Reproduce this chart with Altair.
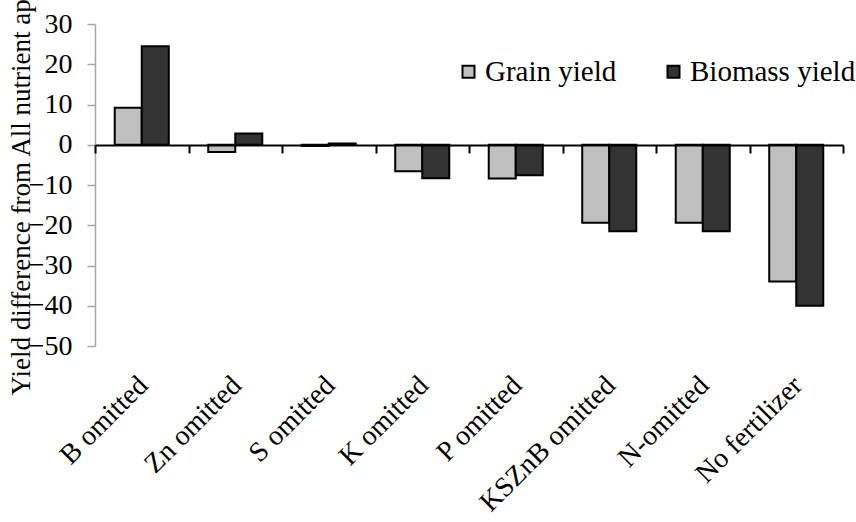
import altair as alt
import pandas as pd

categories = ["B omitted", "Zn omitted", "S omitted", "K omitted", "P omitted",
              "KSZnB omitted", "N-omitted", "No fertilizer"]
grain = [9.2, -1.8, -0.3, -6.6, -8.4, -19.4, -19.4, -34.0]
biomass = [24.5, 2.8, 0.3, -8.3, -7.6, -21.5, -21.5, -40.0]
series = ["Grain yield", "Biomass yield"]
y_ticks = [30, 20, 10, 0, -10, -20, -30, -40, -50]

rows = []
for c, g, b in zip(categories, grain, biomass):
    rows.append({"cat": c, "series": series[0], "value": g})
    rows.append({"cat": c, "series": series[1], "value": b})
df = pd.DataFrame(rows)

FONT = "Liberation Serif"

x_scale = alt.Scale(domain=categories, paddingInner=0, paddingOuter=0)
y_scale = alt.Scale(domain=[-50, 30], nice=False, zero=False)

bars = alt.Chart(df).mark_bar(stroke="black", strokeWidth=2).encode(
    x=alt.X("cat:N", sort=categories, scale=x_scale, title=None,
            axis=alt.Axis(orient="bottom", domain=False, ticks=False, labelAngle=-45,
                          labelFontSize=28, labelColor="black", labelOffset=-8,
                          labelPadding=25, labelLimit=400)),
    xOffset=alt.XOffset("series:N", sort=series,
                        scale=alt.Scale(domain=series, paddingInner=0, paddingOuter=0.73)),
    y=alt.Y("value:Q", scale=y_scale,
            axis=alt.Axis(values=y_ticks, grid=False, domainColor="#a6a6a6", domainWidth=1.5,
                          tickColor="#a6a6a6", tickWidth=1.5, tickSize=8,
                          labelFontSize=28, labelColor="black", labelPadding=15,
                          title="Yield difference from All nutrient applied (%)",
                          titleFontSize=27, titleFontWeight="normal",
                          titleColor="black", titleAngle=270, titleAlign="left",
                          titleBaseline="alphabetic", titleX=-66, titleY=371)),
    fill=alt.Fill("series:N", sort=series,
                  scale=alt.Scale(domain=series, range=["#c0c0c0", "#333333"]),
                  legend=alt.Legend(title=None, orient="none", direction="horizontal",
                                    legendX=359, legendY=33, symbolType="square",
                                    symbolSize=144, symbolStrokeColor="black",
                                    symbolStrokeWidth=2, symbolOpacity=1,
                                    labelFontSize=29, labelColor="black",
                                    labelOffset=2, columnPadding=42, labelLimit=400)),
)

zero_axis = alt.Chart(df).mark_point(opacity=0).encode(
    x=alt.X("cat:N", sort=categories, scale=x_scale, title=None,
            axis=alt.Axis(orient="bottom", offset=-201, labels=False, domain=True,
                          domainColor="black", domainWidth=2, ticks=True, tickColor="black",
                          tickWidth=2, tickSize=8, tickBand="extent", zindex=2)),
    y=alt.datum(0, scale=y_scale),
)

chart = alt.layer(bars, zero_axis).resolve_axis(x="independent").properties(
    width=748, height=322,
    padding={"left": 95, "top": 24, "right": 13, "bottom": 176},
    autosize=alt.AutoSizeParams(type="none"),
).configure(font=FONT).configure_axis(labelFont=FONT, titleFont=FONT).configure_legend(
    labelFont=FONT
).configure_view(stroke=None)

chart.save("out.html", embed_options={"renderer": "svg", "actions": False})
